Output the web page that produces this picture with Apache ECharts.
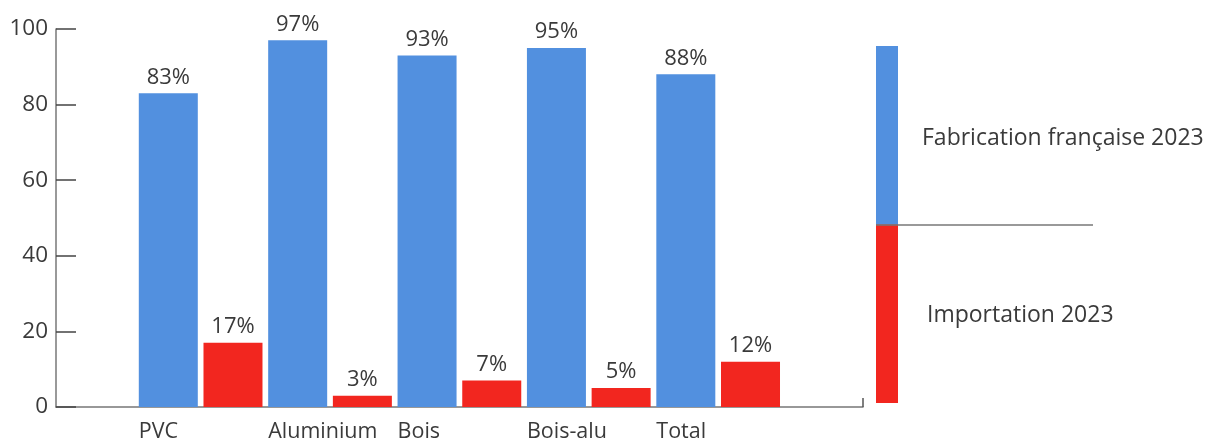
<!DOCTYPE html>
<html>
<head>
<meta charset="utf-8">
<script src="https://cdn.jsdelivr.net/npm/echarts@6/dist/echarts.min.js"></script>
<style>
html,body{margin:0;padding:0;background:#fff;}
#c{width:1209px;height:443px;}
</style>
</head>
<body>
<div id="c"></div>
<script>
const categories = ['PVC', 'Aluminium', 'Bois', 'Bois-alu', 'Total'];
const fabrication = [83, 97, 93, 95, 88];
const importation = [17, 3, 7, 5, 12];
const seriesNames = ['Fabrication française 2023', 'Importation 2023'];
const yTicks = { min: 0, max: 100, interval: 20 };

const FONT = 'Open Sans';
const FW = 400;
const TXT = '#3a3a3a';
const BLUE = '#5290df';
const RED = '#f2261f';
const xMin = -1.736, xMax = 10.739;
const labelShift = 0.456;

const fabData = fabrication.map((v, i) => [2 * i, v]);
const impData = importation.map((v, i) => [2 * i + 1, v]);

const chart = echarts.init(document.getElementById('c'), null, { renderer: 'canvas' });
const barLabel = {
  show: true, position: 'top', distance: 5,
  fontFamily: FONT, fontWeight: FW, fontSize: 22, color: TXT,
  formatter: p => p.value[1] + '%'
};
chart.setOption({
  animation: false,
  grid: [
    { left: 56, right: 346, top: 29, bottom: 36 },
    { left: 876, top: 46, width: 217, height: 357 }
  ],
  xAxis: [
    {
      type: 'value', gridIndex: 0, min: xMin, max: xMax,
      splitLine: { show: false },
      axisLine: { show: true, onZero: false, lineStyle: { color: '#777', width: 1.5 } },
      axisTick: { show: true, inside: true, length: 9, customValues: [xMax], lineStyle: { color: '#555', width: 1.5 } },
      axisLabel: {
        show: true, customValues: categories.map((c, i) => 2 * i - labelShift),
        formatter: v => categories[Math.round((v + labelShift) / 2)] || '',
        align: 'left', margin: 14, fontFamily: FONT, fontWeight: FW, fontSize: 21.5, color: TXT
      }
    },
    { type: 'value', gridIndex: 1, min: 0, max: 217 / 22, show: false }
  ],
  yAxis: [
    {
      type: 'value', gridIndex: 0, min: yTicks.min, max: yTicks.max, interval: yTicks.interval,
      splitLine: { show: false },
      axisLine: { show: true, onZero: false, lineStyle: { color: '#777', width: 1.5 } },
      axisTick: { show: true, inside: true, length: 20, lineStyle: { color: '#444', width: 1.5 } },
      axisLabel: { margin: 8, fontFamily: FONT, fontWeight: FW, fontSize: 22.5, color: TXT }
    },
    { type: 'value', gridIndex: 1, min: 0, max: 2, show: false }
  ],
  series: [
    {
      name: seriesNames[0], type: 'bar', xAxisIndex: 0, yAxisIndex: 0,
      data: fabData, barWidth: 59, barGap: '-100%',
      itemStyle: { color: BLUE }, label: barLabel
    },
    {
      name: seriesNames[1], type: 'bar', xAxisIndex: 0, yAxisIndex: 0,
      data: impData, barWidth: 59, barGap: '-100%',
      itemStyle: { color: RED }, label: barLabel
    },
    {
      type: 'bar', xAxisIndex: 1, yAxisIndex: 1, barWidth: 22, barGap: '-100%',
      data: [[0.5, 2]], itemStyle: { color: BLUE }, silent: true, z: 2,
      label: { show: true, position: ['100%', '26%'], offset: [24, 0], align: 'left', verticalAlign: 'middle',
        formatter: seriesNames[0], fontFamily: FONT, fontWeight: FW, fontSize: 23, color: TXT }
    },
    {
      type: 'bar', xAxisIndex: 1, yAxisIndex: 1, barWidth: 22, barGap: '-100%',
      data: [[0.5, 1]], itemStyle: { color: RED }, silent: true, z: 3,
      label: { show: true, position: ['100%', '51%'], offset: [29, 0], align: 'left', verticalAlign: 'middle',
        formatter: seriesNames[1], fontFamily: FONT, fontWeight: FW, fontSize: 23, color: TXT },
      markLine: {
        silent: true, symbol: 'none', label: { show: false },
        lineStyle: { color: '#777', width: 1.5, type: 'solid' },
        data: [{ yAxis: 1 }]
      }
    }
  ]
});
</script>
</body>
</html>
